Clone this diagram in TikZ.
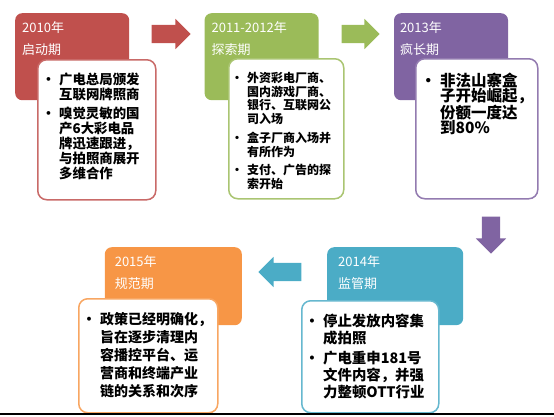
\documentclass[tikz,border=0pt]{standalone}
\usepackage{fontspec}
\setmainfont{Noto Sans CJK SC}
\usepackage{xcolor}
\usetikzlibrary{shapes.arrows, positioning}

\definecolor{phred}{HTML}{C0504D}
\definecolor{phgreen}{HTML}{9BBB59}
\definecolor{phpurple}{HTML}{8064A2}
\definecolor{phblue}{HTML}{4BACC6}
\definecolor{phorange}{HTML}{F79646}

\newcommand{\itm}{\llap{\textbullet\hspace{4pt}}}

\begin{document}
\begin{tikzpicture}[x=1pt, y=-1pt]
	% Styles
	\tikzstyle{head} = [rectangle, rounded corners=7pt, minimum width=114pt, minimum height=87pt, inner sep=0pt, anchor=north west]
	\tikzstyle{info} = [draw, fill=white, rectangle, rounded corners=9pt, line width=1.5pt, inner sep=0pt, anchor=north west]
	\tikzstyle{year} = [text=white, align=left, inner sep=0pt, font=\fontsize{13}{22}\selectfont]
	\tikzstyle{body} = [align=left, inner sep=0pt]
	\tikzstyle{blockarrow} = [single arrow, single arrow head extend=6pt, inner xsep=0pt, inner ysep=9pt, minimum width=0pt]

	\useasboundingbox (0,0) rectangle (554,416);

	% Period headers
	\node (redhead) [head, fill=phred] at (15,13) {};
	\node (greenhead) [head, fill=phgreen, right=75pt of redhead] {};
	\node (purplehead) [head, fill=phpurple, right=75pt of greenhead] {};
	\node (bluehead) [head, fill=phblue, minimum width=136pt, minimum height=78pt] at (327,247) {};
	\node (orangehead) [head, fill=phorange, minimum width=137pt, minimum height=78pt, anchor=east, left=85pt of bluehead] {};

	\node (redyear) [year, below right=8pt and 7pt of redhead.north west] {2010年\\启动期};
	\node (greenyear) [year, below right=8pt and 7pt of greenhead.north west] {2011-2012年\\探索期};
	\node (purpleyear) [year, below right=8pt and 6pt of purplehead.north west] {2013年\\疯长期};
	\node (blueyear) [year, below right=8pt and 11pt of bluehead.north west] {2014年\\监管期};
	\node (orangeyear) [year, below right=8pt and 10pt of orangehead.north west] {2015年\\规范期};

	% Detail boxes
	\node (redinfo) [info, draw=phred!85, minimum width=118pt, minimum height=140pt] at (37,59) {};
	\node (greeninfo) [info, draw=phgreen!85, minimum width=115pt, minimum height=140pt] at (228,58) {};
	\node (purpleinfo) [info, draw=phpurple!85, minimum width=122pt, minimum height=140pt] at (415,58) {};
	\node (blueinfo) [info, draw=phblue!85, minimum width=137pt, minimum height=112pt] at (301,300) {};
	\node (orangeinfo) [info, draw=phorange!85, minimum width=139pt, minimum height=114pt] at (78,298) {};

	\node (redtext) [body, font=\fontsize{13.4}{15}\selectfont\bfseries, below right=14pt and 22pt of redinfo.north west]
		{\itm 广电总局颁发\\互联网牌照商\\[4pt]\itm 嗅觉灵敏的国\\产6大彩电品\\牌迅速跟进，\\与拍照商展开\\多维合作};
	\node (greentext) [body, font=\fontsize{12}{13.7}\selectfont\bfseries, below right=14pt and 19pt of greeninfo.north west]
		{\itm 外资彩电厂商、\\国内游戏厂商、\\银行、互联网公\\司入场\\[5pt]\itm 盒子厂商入场并\\有所作为\\[5pt]\itm 支付、广告的探\\索开始};
	\node (purpletext) [body, font=\fontsize{15.5}{15}\selectfont\bfseries, below right=15pt and 25pt of purpleinfo.north west]
		{\itm 非法山寨盒\\子开始崛起，\\份额一度达\\到80\%};
	\node (bluetext) [body, font=\fontsize{14.4}{17}\selectfont\bfseries, below right=13.5pt and 22pt of blueinfo.north west]
		{\itm 停止发放内容集\\成拍照\\[3pt]\itm 广电重申181号\\文件内容，并强\\力整顿OTT行业};
	\node (orangetext) [body, font=\fontsize{14}{18}\selectfont\bfseries, below right=13.7pt and 22pt of orangeinfo.north west]
		{\itm 政策已经明确化，\\旨在逐步清理内\\容播控平台、运\\营商和终端产业\\链的关系和次序};

	% Arrows
	\node (redarrow) [blockarrow, fill=phred, minimum height=39pt] at (166.5,34) {};
	\node (greenarrow) [blockarrow, fill=phgreen, minimum height=38pt] at (356,34) {};
	\node (purplearrow) [blockarrow, fill=phpurple, minimum height=37pt, rotate=-90] at (491,230.5) {};
	\node (bluearrow) [blockarrow, fill=phblue, minimum height=43pt, rotate=180] at (284.5,272) {};

	\draw [line width=1.2pt] (0,414) -- (554,414);
\end{tikzpicture}
\end{document}
